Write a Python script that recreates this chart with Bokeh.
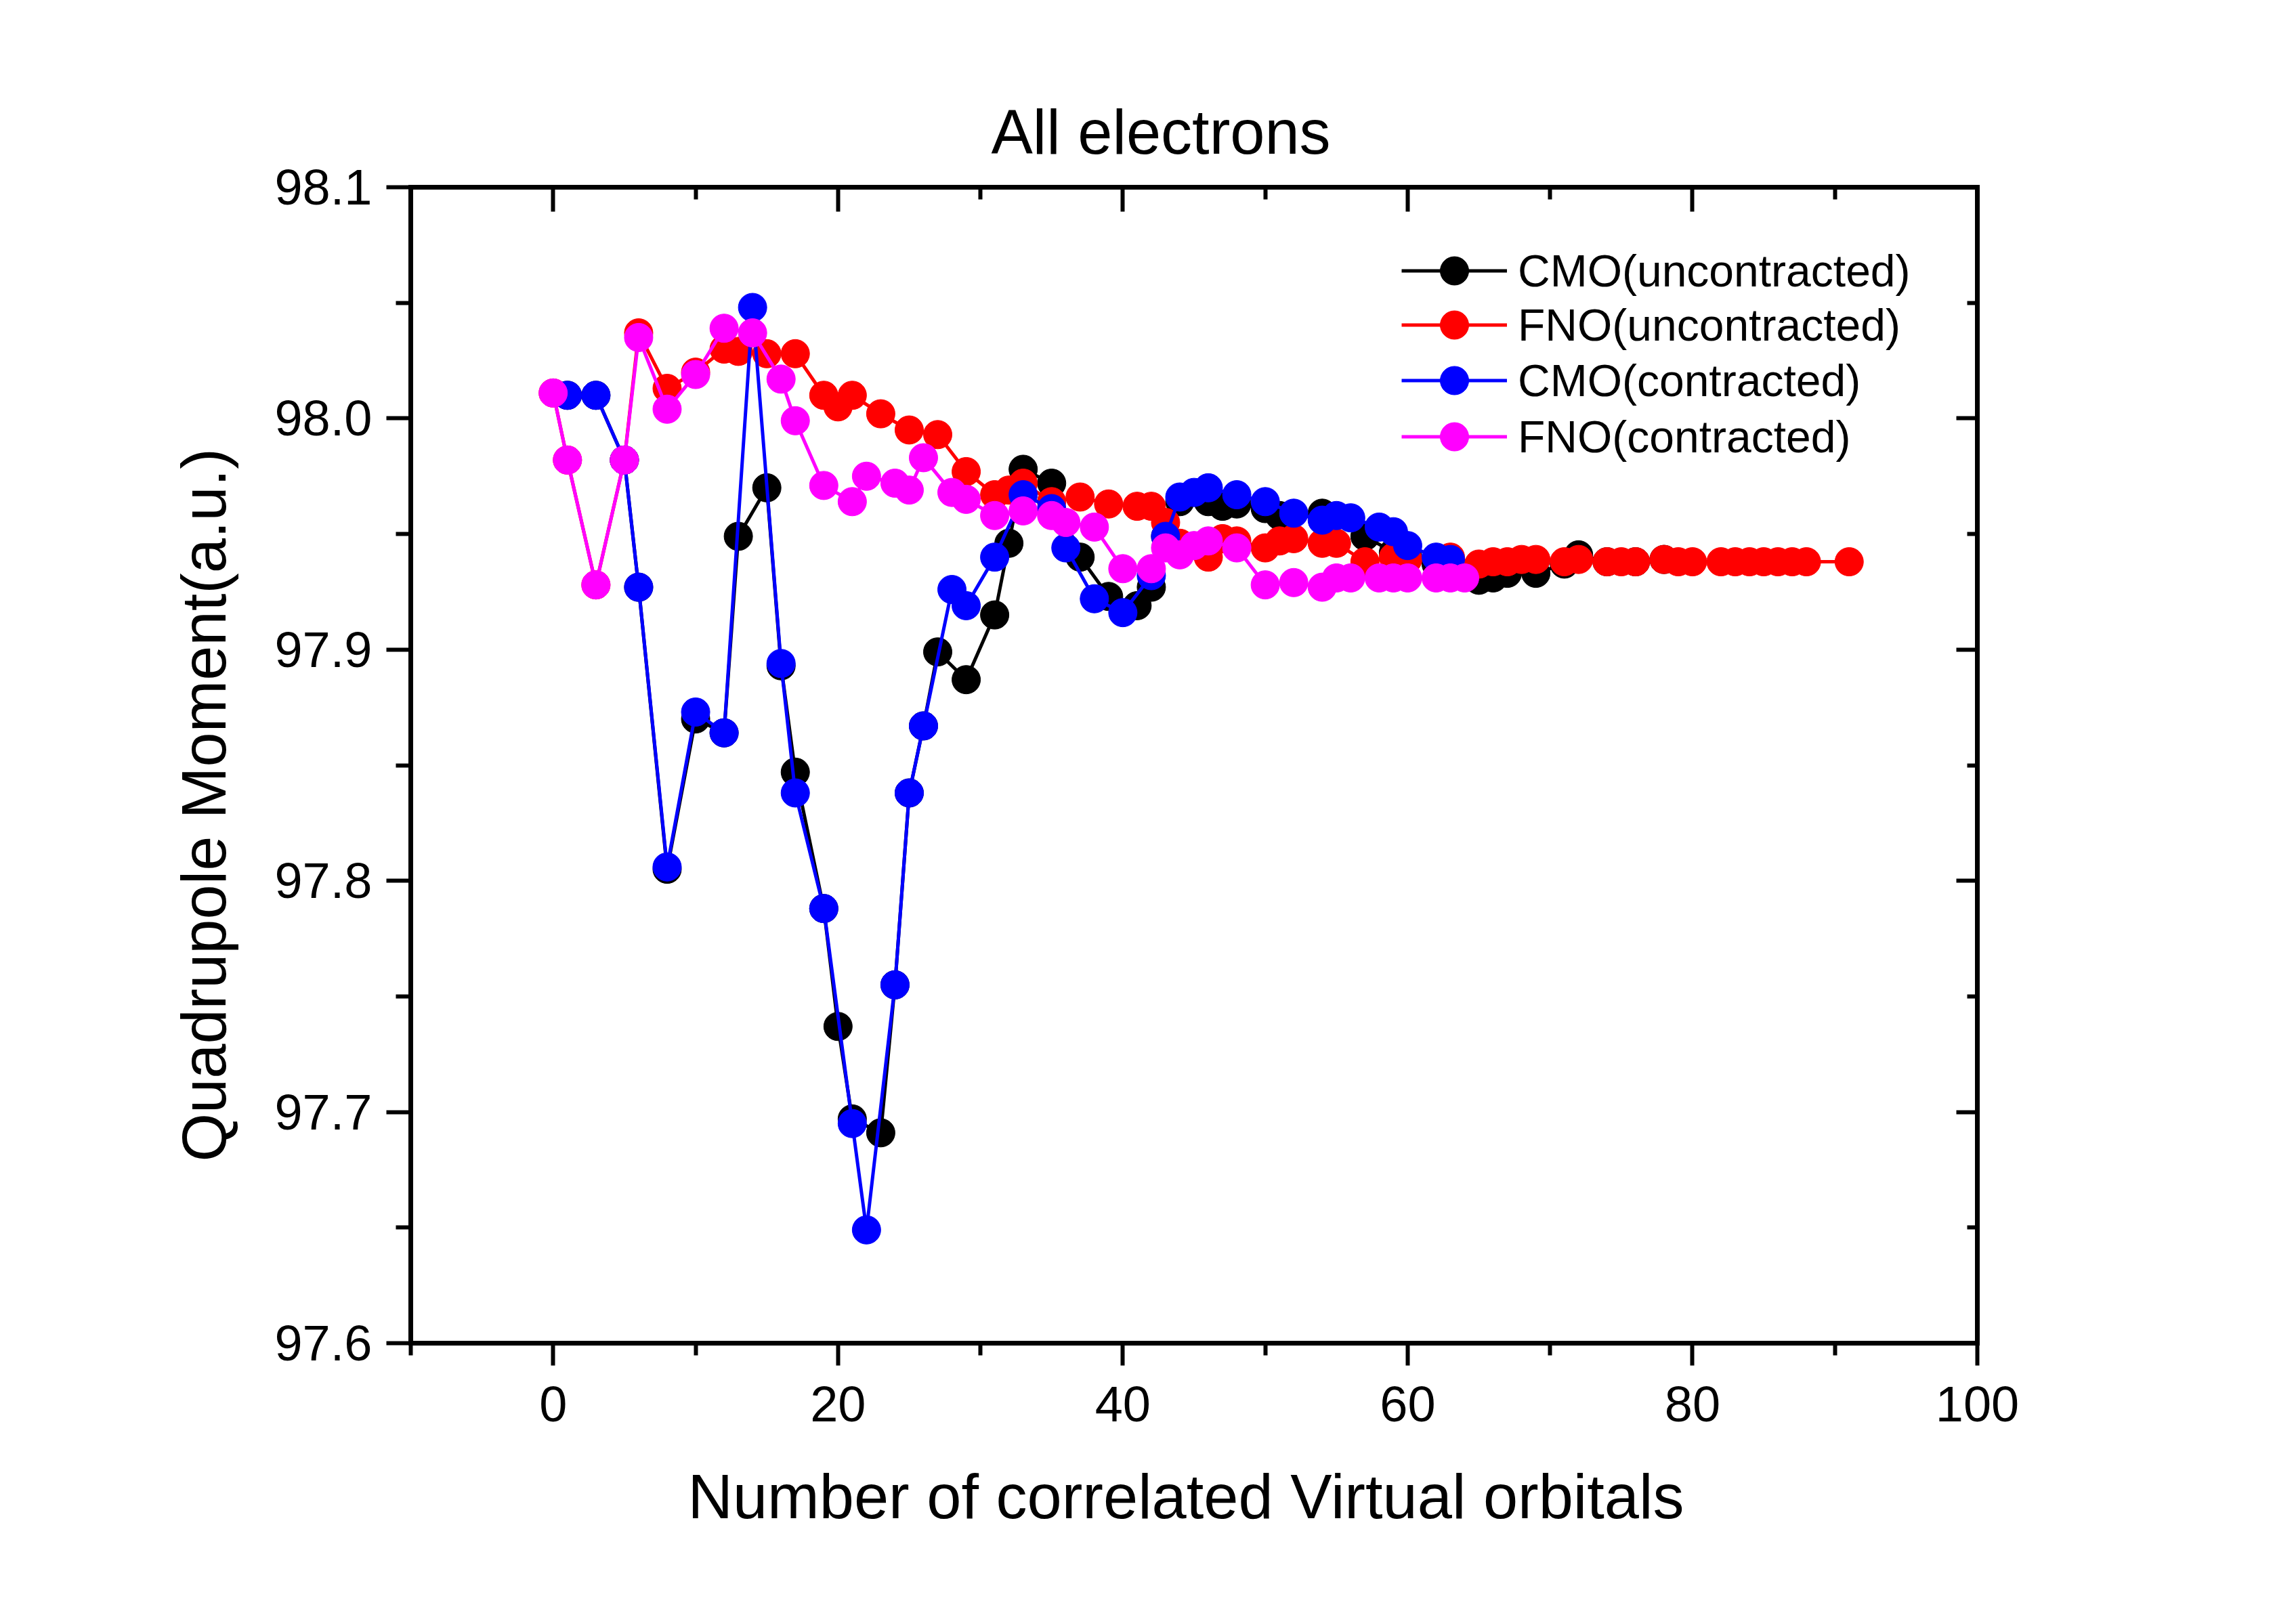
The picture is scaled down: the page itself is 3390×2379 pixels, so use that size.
from bokeh.plotting import figure
from bokeh.models import (FixedTicker, LinearAxis, PrintfTickFormatter, Range1d,
                          Legend, LegendItem, Title)
from bokeh.embed import file_html
from bokeh.resources import INLINE

# ---------------- data ----------------
cmo_unc_x = [1, 3, 5, 6, 8, 10, 12, 13, 15, 16, 17, 19, 20, 21, 23, 24, 25, 26, 27, 29,
             31, 32, 33, 35, 37, 39, 41, 42, 43, 44, 46, 47, 48, 50, 51, 54, 57, 59, 60,
             62, 65, 66, 67, 69, 71, 72, 74, 76, 78]
cmo_unc_y = [98.010, 98.010, 97.982, 97.927, 97.805, 97.870, 97.864, 97.949, 97.970, 97.893,
             97.847, 97.788, 97.737, 97.697, 97.691, 97.755, 97.838, 97.867, 97.899, 97.887,
             97.915, 97.946, 97.978, 97.972, 97.940, 97.923, 97.919, 97.927, 97.949, 97.964,
             97.964, 97.962, 97.963, 97.961, 97.958, 97.959, 97.949, 97.942, 97.940,
             97.937, 97.930, 97.931, 97.933, 97.933, 97.937, 97.941, 97.938, 97.938, 97.939]

fno_unc_x = [0, 1, 3, 5, 6, 8, 10, 12, 13, 15, 17, 19, 20, 21, 23, 25, 27, 29, 31, 32, 33,
             35, 37, 39, 41, 42, 43, 44, 46, 47, 48, 50, 51, 52, 54, 55, 57, 59, 60, 63,
             65, 66, 67, 68, 69, 71, 72, 74, 75, 76, 78, 79, 80, 82, 83, 84, 85, 86, 87,
             88, 91]
fno_unc_y = [98.011, 97.982, 97.928, 97.982, 98.037, 98.013, 98.020, 98.030, 98.029, 98.028,
             98.028, 98.010, 98.005, 98.010, 98.002, 97.995, 97.993, 97.977, 97.967, 97.969,
             97.972, 97.964, 97.966, 97.963, 97.962, 97.962, 97.955, 97.946, 97.940, 97.948,
             97.947, 97.944, 97.947, 97.948, 97.946, 97.946, 97.938, 97.940, 97.939, 97.940,
             97.937, 97.938, 97.938, 97.939, 97.939, 97.938, 97.939, 97.938, 97.938, 97.938,
             97.939, 97.938, 97.938, 97.938, 97.938, 97.938, 97.938, 97.938, 97.938,
             97.938, 97.938]

cmo_con_x = [1, 3, 5, 6, 8, 10, 12, 14, 16, 17, 19, 21, 22, 24, 25, 26, 28, 29, 31, 33,
             35, 36, 38, 40, 42, 43, 44, 45, 46, 48, 50, 52, 54, 55, 56, 58, 59, 60, 62, 63]
cmo_con_y = [98.010, 98.010, 97.982, 97.927, 97.806, 97.873, 97.864, 98.048, 97.894, 97.838,
             97.788, 97.695, 97.649, 97.755, 97.838, 97.867, 97.926, 97.919, 97.940, 97.967,
             97.961, 97.944, 97.922, 97.916, 97.932, 97.949, 97.966, 97.968, 97.970, 97.967,
             97.964, 97.959, 97.956, 97.958, 97.957, 97.953, 97.951, 97.945, 97.940, 97.939]

fno_con_x = [0, 1, 3, 5, 6, 8, 10, 12, 14, 16, 17, 19, 21, 22, 24, 25, 26, 28, 29, 31, 33,
             35, 36, 38, 40, 42, 43, 44, 45, 46, 48, 50, 52, 54, 55, 56, 58, 59, 60, 62,
             63, 64]
fno_con_y = [98.011, 97.982, 97.928, 97.982, 98.035, 98.004, 98.019, 98.039, 98.037, 98.017,
             97.999, 97.971, 97.964, 97.975, 97.972, 97.969, 97.983, 97.968, 97.965, 97.958,
             97.960, 97.958, 97.955, 97.953, 97.935, 97.935, 97.944, 97.941, 97.945, 97.947,
             97.944, 97.928, 97.929, 97.927, 97.931, 97.931, 97.931, 97.931, 97.931, 97.931,
             97.931, 97.931]

series_names = ["CMO(uncontracted)", "FNO(uncontracted)", "CMO(contracted)", "FNO(contracted)"]
series_colors = ["#000000", "#FF0000", "#0000FF", "#FF00FF"]

x_major = [0, 20, 40, 60, 80, 100]
x_minor = [-10, 10, 30, 50, 70, 90]
y_major = [97.6, 97.7, 97.8, 97.9, 98.0, 98.1]
y_minor = [97.65, 97.75, 97.85, 97.95, 98.05]

title_text = "All electrons"
x_label = "Number of correlated Virtual orbitals"
y_label = "Quadrupole Moment(a.u.)"

FONT = "Liberation Sans"

W, H = 3372, 2360
p = figure(width=W, height=H, output_backend="svg", toolbar_location=None,
           x_range=Range1d(-10, 100), y_range=Range1d(97.6, 98.1),
           min_border_left=606, min_border_right=453, min_border_top=276,
           min_border_bottom=377)
p.outline_line_color = None
p.xgrid.visible = False
p.ygrid.visible = False
p.background_fill_color = "white"

p.title.text = title_text
p.title.text_font = FONT
p.title.text_font_size = "92px"
p.title.text_font_style = "normal"
p.title.text_color = "black"
p.title.align = "left"
p.title.offset = 857
p.title.standoff = 61


def style_axis(ax, ticks, minors, tick_out, tick_in, mtick_out, mtick_in, labels=True):
    ax.ticker = FixedTicker(ticks=ticks, minor_ticks=minors)
    ax.axis_line_width = 7
    ax.axis_line_color = "black"
    ax.axis_line_cap = "square"
    ax.major_tick_line_width = 6
    ax.minor_tick_line_width = 6
    ax.major_tick_out = tick_out
    ax.major_tick_in = tick_in
    ax.minor_tick_out = mtick_out
    ax.minor_tick_in = mtick_in
    ax.major_label_text_font = FONT
    ax.major_label_text_color = "black"
    if labels:
        ax.major_label_text_font_size = "74px"
    else:
        ax.major_label_overrides = {t: "" for t in ticks}
        ax.major_label_text_font_size = "1px"
        ax.major_label_standoff = 0


xax = p.xaxis[0]
style_axis(xax, x_major, x_minor, 33, 0, 18, 0)
xax.major_label_standoff = 31

xtitle = Title(text=x_label, align="left", offset=409, standoff=114, vertical_align="top",
               text_font=FONT, text_font_size="92px", text_font_style="normal",
               text_color="black")
p.add_layout(xtitle, "below")

yax = p.yaxis[0]
style_axis(yax, y_major, y_minor, 36, 0, 22, 0)
yax.formatter = PrintfTickFormatter(format="%.1f")
yax.major_label_standoff = 21

ytitle = Title(text=y_label, align="left", offset=268, standoff=102,
               text_font=FONT, text_font_size="92px", text_font_style="normal",
               text_color="black")
p.add_layout(ytitle, "left")

top = LinearAxis()
style_axis(top, x_major, x_minor, 0, 36, 0, 18, labels=False)
p.add_layout(top, "above")

right = LinearAxis()
style_axis(right, y_major, y_minor, 0, 31, 0, 15, labels=False)
p.add_layout(right, "right")

all_x = [cmo_unc_x, fno_unc_x, cmo_con_x, fno_con_x]
all_y = [cmo_unc_y, fno_unc_y, cmo_con_y, fno_con_y]
legend_bottoms = [1531, 1451, 1369, 1286]
for name, color, xs, ys, lb in zip(series_names, series_colors, all_x, all_y, legend_bottoms):
    lr = p.line(xs, ys, line_color=color, line_width=5)
    sr = p.scatter(xs, ys, marker="circle", size=42, fill_color=color, line_color=color,
                   line_width=1)
    leg = Legend(items=[LegendItem(label=name, renderers=[lr, sr])], location=(1463, lb),
                 orientation="vertical", glyph_width=156, glyph_height=105,
                 label_height=105, spacing=0, label_standoff=16, padding=0, margin=0,
                 border_line_color=None, background_fill_alpha=0, label_text_font=FONT,
                 label_text_font_size="66px", label_text_color="black")
    p.add_layout(leg, "center")

open("out.html", "w").write(file_html(p, INLINE))
